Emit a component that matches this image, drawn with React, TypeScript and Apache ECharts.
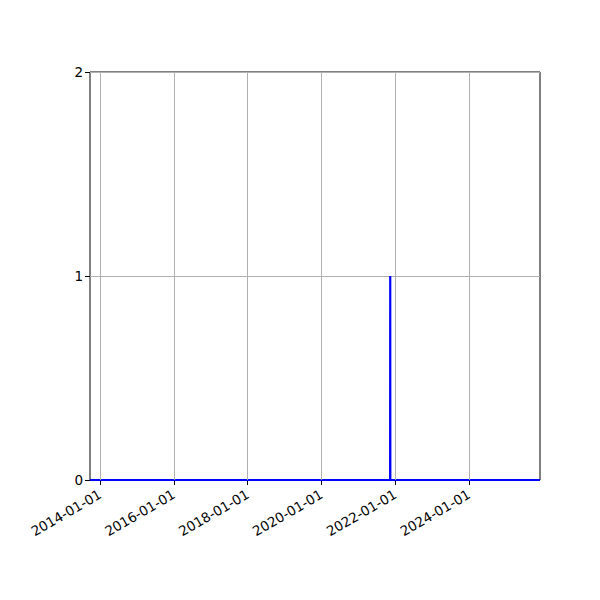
import React, { useEffect, useRef } from 'react';
import * as echarts from 'echarts';

// axis range and data
const rangeStart = '2013-09-24';
const rangeEnd = '2025-12-03';
const eventDates = ['2013-09-24', '2021-11-11', '2021-11-12', '2021-11-13', '2025-12-03'];
const eventCounts = [0, 0, 1, 0, 0];
const tickDates = ['2014-01-01', '2016-01-01', '2018-01-01', '2020-01-01', '2022-01-01', '2024-01-01'];
const yTicks = [0, 1, 2];

const toTime = (d: string) => {
  const [y, m, day] = d.split('-').map(Number);
  return Date.UTC(y, m - 1, day);
};

const pad = (n: number) => (n < 10 ? '0' + n : String(n));

const App: React.FC = () => {
  const chartRef = useRef<HTMLDivElement>(null);

  useEffect(() => {
    if (!chartRef.current) return;
    const chart = echarts.init(chartRef.current, null, { renderer: 'svg' });

    const tickTimes = tickDates.map(toTime);
    const font = 'DejaVu Sans';

    const option = {
      animation: false,
      backgroundColor: '#fff',
      grid: {
        left: 90,
        right: 60,
        top: 72,
        bottom: 120,
        show: true,
        borderColor: '#000',
        borderWidth: 1,
        backgroundColor: 'transparent'
      },
      xAxis: {
        type: 'value',
        min: toTime(rangeStart),
        max: toTime(rangeEnd),
        axisLine: { show: false, onZero: false },
        axisTick: {
          show: true,
          customValues: tickTimes,
          length: 5,
          lineStyle: { color: '#000' }
        },
        axisLabel: {
          customValues: tickTimes,
          rotate: 30,
          margin: 13,
          color: '#000',
          fontSize: 13.5,
          fontFamily: font,
          formatter: (v: number) => {
            const d = new Date(v);
            return `${d.getUTCFullYear()}-${pad(d.getUTCMonth() + 1)}-${pad(d.getUTCDate())}`;
          }
        },
        splitLine: { show: false }
      },
      yAxis: {
        type: 'value',
        min: 0,
        max: 2,
        interval: 1,
        axisLine: { show: false },
        axisTick: { show: true, length: 5, lineStyle: { color: '#000' } },
        axisLabel: {
          margin: 7,
          color: '#000',
          fontSize: 13.5,
          fontFamily: font,
          formatter: (v: number) => (yTicks.includes(v) ? String(v) : '')
        },
        splitLine: { show: true, lineStyle: { color: '#b0b0b0', width: 1 } }
      },
      series: [
        {
          name: 'grid',
          type: 'line',
          data: [],
          z: 1,
          silent: true,
          markLine: {
            silent: true,
            symbol: ['none', 'none'],
            label: { show: false },
            lineStyle: { color: '#b0b0b0', width: 1, type: 'solid' },
            data: tickTimes.map((t) => ({ xAxis: t }))
          }
        },
        {
          name: 'count',
          type: 'line',
          z: 3,
          showSymbol: false,
          data: eventDates.map((d, i) => [toTime(d), eventCounts[i]]),
          lineStyle: { color: '#0000ff', width: 2.2 },
          itemStyle: { color: '#0000ff' }
        }
      ]
    };

    chart.setOption(option);
    return () => {
      chart.dispose();
    };
  }, []);

  return <div ref={chartRef} style={{ width: 600, height: 600, margin: -8 }} />;
};

export default App;
